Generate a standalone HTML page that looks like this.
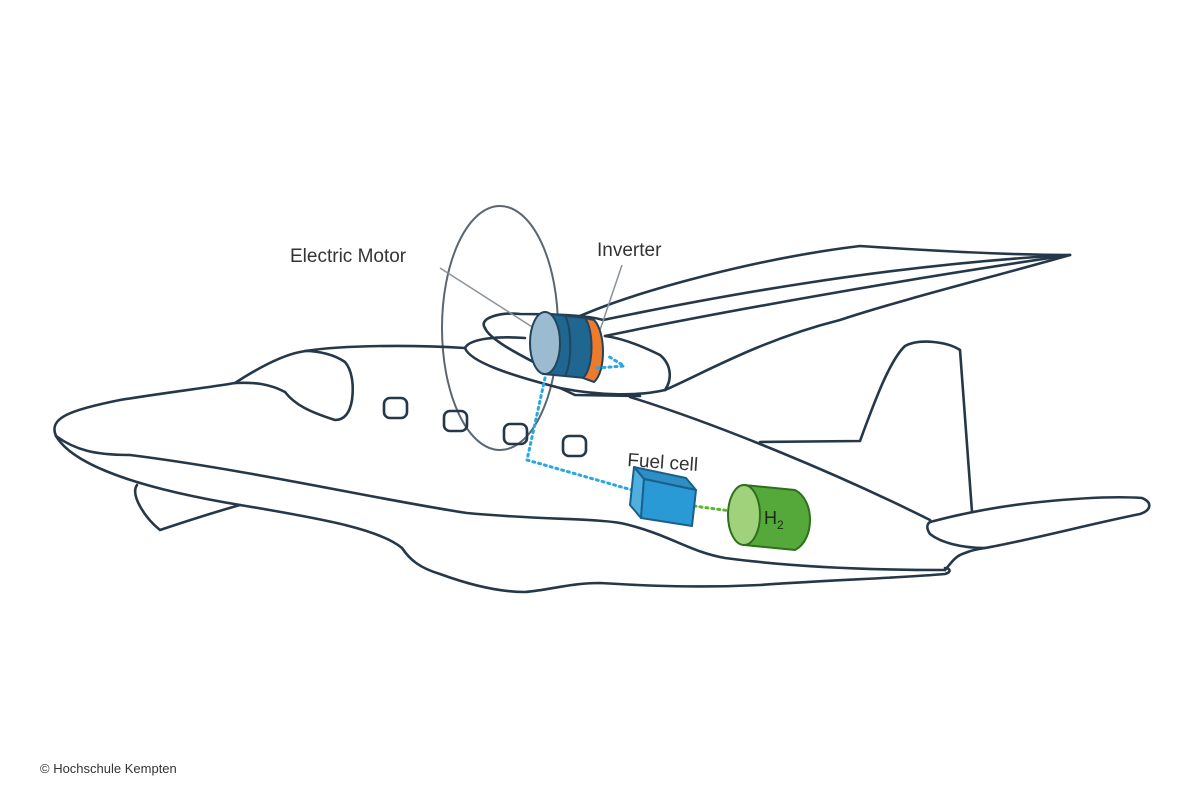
<!DOCTYPE html>
<html><head><meta charset="utf-8"><style>
html,body{margin:0;padding:0;background:#fff;}
svg{display:block}
text{font-family:"Liberation Sans",sans-serif;}
</style></head><body>
<svg width="1200" height="800" viewBox="0 0 1200 800" xmlns="http://www.w3.org/2000/svg">
<g fill="none" stroke="#25384a" stroke-width="2.6" stroke-linejoin="round" stroke-linecap="round">
<!-- propeller disc -->
<ellipse cx="500" cy="328" rx="58" ry="122" stroke="#5a6670" stroke-width="2"/>
<!-- nose / top -->
<path d="M56,436 C48,418 70,410 120,400 C170,392 205,388 235,383"/>
<path d="M235,383 C255,370 280,356 300,352 C330,346 400,344 465,348"/>
<!-- cockpit window -->
<path d="M235,383 C255,382 270,384 285,392 C295,405 310,412 335,420 C345,420 350,412 352,400 C354,385 352,370 345,362 C335,355 320,351 305,351"/>
<!-- lower lines from nose -->
<path d="M56,436 C75,450 95,455 130,455 C250,470 380,500 467,513 C540,520 600,518 625,524 C670,535 690,552 725,558 C800,568 880,570 945,570"/>
<path d="M56,436 C70,460 120,485 240,505 C330,520 380,530 402,548 C410,560 420,568 440,574 C470,585 500,592 525,592 C550,590 570,583 600,583 C650,586 700,588 760,585 C830,580 900,578 945,574 C952,572 950,568 945,568"/>
<!-- lower fin -->
<path d="M137,485 C130,495 145,518 160,530 C190,520 215,512 240,505"/>
<!-- windows -->
<rect x="384" y="398" width="23" height="20" rx="6"/>
<rect x="444" y="411" width="23" height="20" rx="6"/>
<rect x="504" y="424" width="23" height="20" rx="6"/>
<rect x="563" y="436" width="23" height="20" rx="6"/>
<!-- rear fuselage top -->
<path d="M630,397 C720,425 840,475 930,520"/>
<!-- tail cone -->
<path d="M945,570 C952,562 955,556 965,553 C972,550 978,549 985,548"/>
<!-- vertical fin -->
<path d="M760,442 L860,441 C875,400 890,360 905,346 C920,338 948,342 960,350 L972,512"/>
<!-- horizontal tail -->
<path d="M930,522 C960,514 1000,506 1040,502 C1080,498 1115,496 1142,498 C1152,502 1152,510 1140,514 C1090,524 1030,540 985,548 C960,548 940,542 930,534 C926,528 927,524 930,522 Z"/>
<!-- nacelle -->
<path d="M485,328 C478,318 500,312 520,314 C560,314 590,316 603,320"/>
<path d="M485,328 C490,340 520,355 545,368"/>
<path d="M465,348 C470,338 500,336 525,338"/>
<path d="M465,348 C470,362 510,375 560,388 C600,396 640,396 665,390 C672,380 672,365 660,355 C640,345 620,338 605,336"/>
<!-- wing -->
<path d="M603,320 C700,300 880,265 1070,255"/>
<path d="M605,336 C720,312 900,280 1070,255"/>
<path d="M1070,255 C1000,255 920,250 860,246 C760,258 640,290 580,316"/>
<path d="M665,390 C700,375 760,340 840,320 C900,300 1000,275 1070,255"/>
<path d="M560,388 L575,395 L640,396"/>
</g>
<!-- leader lines -->
<line x1="440" y1="268" x2="537" y2="330" stroke="#8a9299" stroke-width="1.5"/>
<line x1="622" y1="265" x2="600" y2="330" stroke="#8a9299" stroke-width="1.5"/>
<!-- motor -->
<g stroke="#22445e" stroke-width="2">
<path d="M543,313 L585,318 C596,330 596,368 585,378 L543,374 Z" fill="#1f6690"/>
<path d="M585,318 L594,320 C606,332 606,372 594,382 L583,378 C594,368 594,330 585,318 Z" fill="#ee7a2c"/>
<ellipse cx="545" cy="343" rx="15" ry="31" fill="#9bbcd0"/>
<path d="M565,315 C572,330 572,362 565,376" fill="none"/>
</g>
<!-- dotted connectors -->
<g fill="none" stroke="#2aa7e0" stroke-width="3" stroke-dasharray="2 4" stroke-linecap="round">
<path d="M545,378 L527,460 L632,490"/>
<path d="M597,368 L624,366 L608,356"/>
</g>
<path d="M694,506 L738,512" stroke="#5db52e" stroke-width="3" stroke-dasharray="2 4" stroke-linecap="round" fill="none"/>
<!-- fuel cell -->
<g stroke="#1b5f8a" stroke-width="2" stroke-linejoin="round">
<path d="M634,467 L686,478 L696,490 L644,479 Z" fill="#2d8fc6"/>
<path d="M634,467 L644,479 L641,518 L630,505 Z" fill="#4fb0e0"/>
<path d="M644,479 L696,490 L692,526 L641,518 Z" fill="#2a9ad6"/>
</g>
<!-- H2 -->
<g stroke="#2f6e1c" stroke-width="2">
<path d="M744,485 L795,490 C815,500 815,540 795,550 L744,545 Z" fill="#55a83a"/>
<ellipse cx="744" cy="515" rx="16" ry="30" fill="#9fd27a"/>
</g>
<text x="764" y="524" font-size="18" fill="#1e2a18">H<tspan font-size="12" dy="5">2</tspan></text>
<!-- labels -->
<text x="290" y="262" font-size="19" fill="#333">Electric Motor</text>
<text x="597" y="256" font-size="19" fill="#333">Inverter</text>
<text x="627" y="466" font-size="19" fill="#333" transform="rotate(4 627 466)">Fuel cell</text>
<text x="40" y="773" font-size="13" fill="#333">© Hochschule Kempten</text>
</svg>
</body></html>
